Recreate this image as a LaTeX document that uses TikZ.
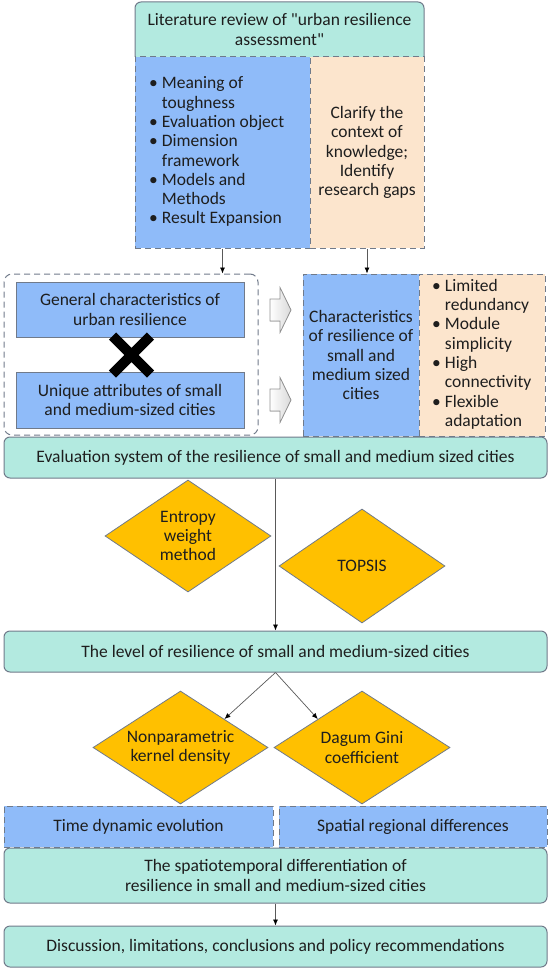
\documentclass[tikz,border=0pt]{standalone}
\usepackage{fontspec}
\setmainfont{Carlito}[Ligatures=TeXOff]
\usepackage{tikz}
\usetikzlibrary{shapes.geometric, arrows.meta, positioning, calc}
\definecolor{mint1}{RGB}{179, 234, 224}
\definecolor{sky1}{RGB}{143, 187, 249}
\definecolor{peach1}{RGB}{252, 229, 205}
\definecolor{amber1}{RGB}{255, 192, 0}
\definecolor{edge1}{RGB}{112, 122, 138}
\definecolor{ink1}{RGB}{30, 30, 30}

\begin{document}
\begin{tikzpicture}[x=1pt, y=-1pt,
  every node/.style={font=\fontsize{17.5}{19.3}\selectfont, text=ink1, inner sep=0pt},
  mintbox/.style={draw=edge1, fill=mint1, rounded corners=6pt, line width=1pt, align=center},
  dashbox/.style={draw=edge1, dash pattern=on 6pt off 4pt, line width=1pt, align=center},
  plainbox/.style={draw=edge1, fill=sky1, line width=1pt, align=center},
  method/.style={diamond, draw=edge1, fill=amber1, line width=0.8pt, align=center},
  flow/.style={draw=gray!70!black, line width=0.7pt, -{Latex[length=6pt, width=5pt, color=black]}},
  hollow/.style={draw=gray!85, line width=0.8pt, left color=white, right color=gray!30}]
  \useasboundingbox (0,0) rectangle (550,971);

  % Literature review
  \filldraw[draw=edge1, fill=mint1, line width=1pt, rounded corners=6pt]
    (135,57) -- (135,2) -- (424,2) -- (424,57);
  \node[align=center] (lit) at (279.5,29.5) {Literature review of "urban resilience\\assessment"};
  \node[dashbox, fill=sky1, minimum width=175pt, minimum height=191pt] (review) at (222.5,152.5) {};
  \node[anchor=west] (reviewlist) at (149,152.5) {%
    \begin{tabular}{@{}l@{\hspace{4pt}}l@{}}
      \textbullet & Meaning of\\ & toughness\\
      \textbullet & Evaluation object\\
      \textbullet & Dimension\\ & framework\\
      \textbullet & Models and\\ & Methods\\
      \textbullet & Result Expansion
    \end{tabular}};
  \node[dashbox, fill=peach1, minimum width=114pt, minimum height=191pt] (gaps) at (367,152.5)
    {Clarify the\\context of\\knowledge;\\Identify\\research gaps};

  % Characteristics
  \node[dashbox, rounded corners=8pt, minimum width=254pt, minimum height=161pt] (group) at (131,354.5) {};
  \node[plainbox, minimum width=228pt, minimum height=55pt] (general) at (130,309.5)
    {General characteristics of\\urban resilience};
  \node[plainbox, minimum width=228pt, minimum height=56pt] (unique) at (130,400)
    {Unique attributes of small\\and medium-sized cities};
  \draw[line width=10pt] (112.5,336) -- (150.5,374) (112.5,374) -- (150.5,336);
  \foreach \yy in {310,400}
    \filldraw[hollow] (270,\yy-11) -- (280,\yy-11) -- (280,\yy-22.5) -- (291,\yy)
      -- (280,\yy+22.5) -- (280,\yy+11) -- (270,\yy+11) -- cycle;
  \node[dashbox, fill=sky1, minimum width=116pt, minimum height=162pt] (chars) at (361,355)
    {Characteristics\\of resilience of\\small and\\medium sized\\cities};
  \node[dashbox, fill=peach1, minimum width=126pt, minimum height=162pt] (traits) at (482,355) {};
  \node[anchor=west] (traitlist) at (432,355) {%
    \begin{tabular}{@{}l@{\hspace{4pt}}l@{}}
      \textbullet & Limited\\ & redundancy\\
      \textbullet & Module\\ & simplicity\\
      \textbullet & High\\ & connectivity\\
      \textbullet & Flexible\\ & adaptation
    \end{tabular}};
  \draw[flow] (review.south) -- (review.south |- group.north);
  \draw[flow] (gaps.south) -- (gaps.south |- chars.north);

  % Evaluation and level
  \node[mintbox, minimum width=543pt, minimum height=41pt] (evalsys) at (275.5,457.5)
    {Evaluation system of the resilience of small and medium sized cities};
  \node[method, aspect=1.5, minimum width=166pt, minimum height=112pt] (entropy) at (188,536)
    {Entropy\\weight\\method};
  \node[method, aspect=1.5, minimum width=166pt, minimum height=114pt] (topsis) at (362,566) {TOPSIS};
  \node[mintbox, minimum width=543pt, minimum height=41pt] (level) at (275.5,651.5)
    {The level of resilience of small and medium-sized cities};
  \draw[flow] (evalsys.south) -- (level.north);

  % Differentiation
  \node[method, aspect=1.55, minimum width=175pt, minimum height=113pt] (nonpar) at (180.5,747.5)
    {Nonparametric\\kernel density};
  \node[method, aspect=1.55, minimum width=176pt, minimum height=113pt] (dagum) at (362,747.5)
    {Dagum Gini\\coefficient};
  \draw[flow] (level.south) -- (nonpar.north east);
  \draw[flow] (level.south) -- (dagum.north west);
  \node[dashbox, fill=sky1, minimum width=269pt, minimum height=41pt] (timedyn) at (138.5,826.5)
    {Time dynamic evolution};
  \node[dashbox, fill=sky1, minimum width=268pt, minimum height=41pt] (spatial) at (413,826.5)
    {Spatial regional differences};
  \node[mintbox, minimum width=543pt, minimum height=55pt] (spatio) at (275.5,875.5)
    {The spatiotemporal differentiation of\\resilience in small and medium-sized cities};
  \node[mintbox, minimum width=543pt, minimum height=41pt] (discuss) at (275.5,946.5)
    {Discussion, limitations, conclusions and policy recommendations};
  \draw[flow] (spatio.south) -- (discuss.north);
\end{tikzpicture}
\end{document}
